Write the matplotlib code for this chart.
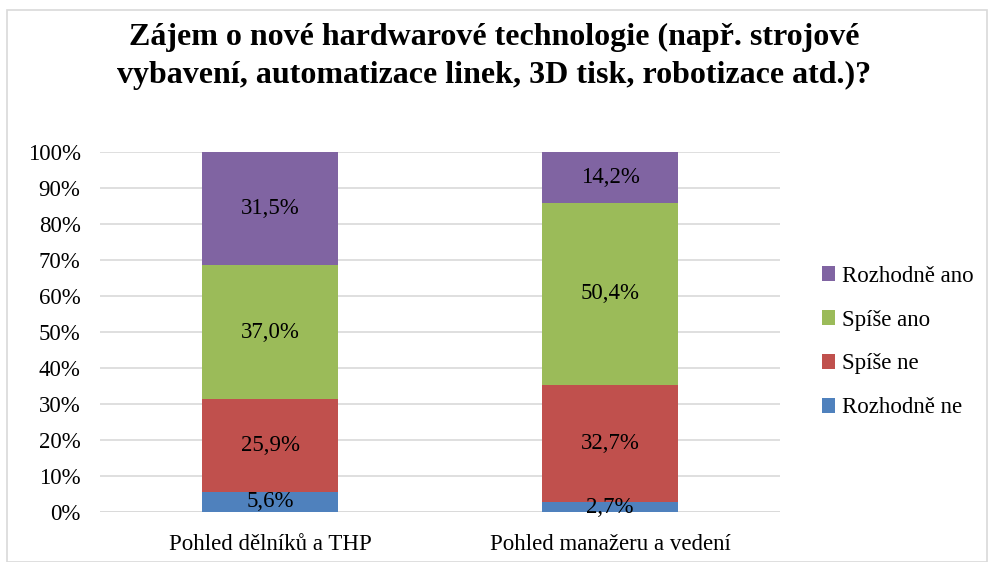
import matplotlib
matplotlib.use("Agg")
import matplotlib.pyplot as plt
from matplotlib.patches import Rectangle
import numpy as np

categories = ["Pohled dělníků a THP", "Pohled manažeru a vedení"]
series_names = ["Rozhodně ne", "Spíše ne", "Spíše ano", "Rozhodně ano"]
rozhodne_ne = [5.6, 2.7]
spise_ne = [25.9, 32.7]
spise_ano = [37.0, 50.4]
rozhodne_ano = [31.5, 14.2]
colors = ["#4F81BD", "#C0504D", "#9BBB59", "#8064A2"]
title = "Zájem o nové hardwarové technologie (např. strojové\nvybavení, automatizace linek, 3D tisk, robotizace atd.)?"

plt.rcParams['font.family'] = ['Liberation Serif', 'DejaVu Serif']

fig = plt.figure(figsize=(9.89, 5.62), dpi=100)
ax = fig.add_axes([100/989, 50/562, 680/989, 360/562])

series = [rozhodne_ne, spise_ne, spise_ano, rozhodne_ano]
x = np.arange(len(categories))
bottom = np.zeros(len(categories))
handles = []
for vals, col, name in zip(series, colors, series_names):
    v = np.array(vals)
    b = ax.bar(x, v, 0.4, bottom=bottom, color=col, label=name, zorder=3)
    handles.append(b)
    for xi, vi, bi in zip(x, v, bottom):
        ax.text(xi, bi + vi / 2, f"{vi:.1f}%".replace(".", ","), ha="center", va="center",
                fontsize=16.5, color="black", zorder=4)
    bottom = bottom + v

ax.set_xlim(-0.5, 1.5)
ax.set_ylim(0, 100)
ax.set_yticks(np.arange(0, 101, 10))
ax.set_yticklabels([f"{t}%" for t in range(0, 101, 10)], fontsize=16.5)
ax.set_xticks(x)
ax.set_xticklabels(categories, fontsize=16.5)
ax.tick_params(axis='y', length=0, pad=14)
ax.tick_params(axis='x', length=0, pad=16)
ax.yaxis.grid(True, color="#D9D9D9", linewidth=1.2, zorder=0)
for s in ax.spines.values():
    s.set_visible(False)
ax.axhline(0, color="#D9D9D9", linewidth=1.2, zorder=2)

leg = fig.legend(handles[::-1], series_names[::-1], loc="upper left",
                 bbox_to_anchor=(801/989, 1 - 245/562), frameon=False, fontsize=16.5,
                 handlelength=0.6, handleheight=0.6, handletextpad=0.3, labelspacing=1.0)

fig.text(0.5, 1 - 23/562, title, ha="center", va="top", fontsize=23,
         fontweight="bold", linespacing=1.4)

fig.patches.append(Rectangle((7/989, 0), 980/989, 1 - 10/562, transform=fig.transFigure,
                             fill=False, edgecolor="#D9D9D9", linewidth=1.2))

fig.savefig("out.png", dpi=100)
